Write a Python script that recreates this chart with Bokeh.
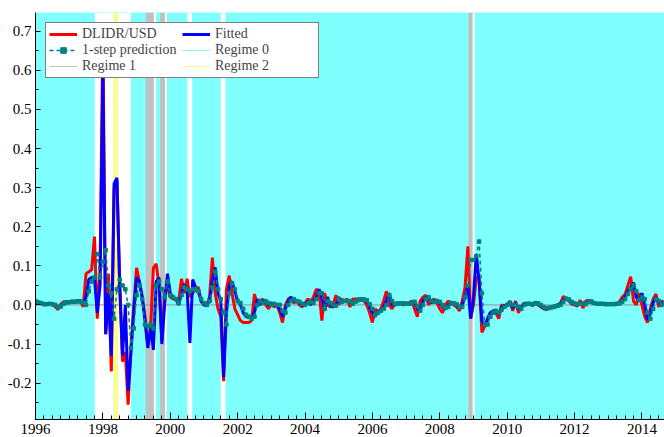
from bokeh.plotting import figure
from bokeh.models import (Range1d, BoxAnnotation, Span, Legend, LegendItem,
                          SingleIntervalTicker, PrintfTickFormatter, ColumnDataSource)
from bokeh.embed import file_html
from bokeh.resources import INLINE

# ---------------- data (monthly, starting 1996M1) ----------------
start_year = 1996

dlidr_usd = [
    0.005, 0.008, 0.004, 0.0, 0.003, 0.002, 0.0, -0.004, -0.012, 0.002, 0.008, 0.009,      # 1996
    0.008, 0.01, 0.009, 0.011, 0.01, -0.005, 0.08, 0.085, 0.09, 0.175, -0.035, 0.09,        # 1997
    0.71, -0.075, 0.08, -0.17, 0.30, 0.32, 0.05, -0.145, -0.12, -0.255, -0.11, 0.0,         # 1998
    0.095, 0.06, 0.02, -0.03, -0.10, -0.06, 0.095, 0.105, 0.05, -0.09, 0.03, 0.05,          # 1999
    0.02, 0.015, 0.015, 0.01, 0.067, 0.03, 0.067, 0.02, 0.03, 0.04, 0.045, 0.01,            # 2000
    0.0, 0.0, 0.02, 0.121, 0.03, -0.01, -0.03, -0.195, 0.04, 0.075, 0.03, -0.01,            # 2001
    -0.025, -0.04, -0.045, -0.045, -0.045, -0.04, 0.028, 0.0, 0.01, 0.015, 0.0, -0.01,      # 2002
    0.005, -0.005, 0.0, -0.02, -0.045, 0.0, 0.015, 0.02, 0.005, 0.01, 0.0, -0.005,          # 2003
    0.005, 0.015, 0.01, 0.02, 0.04, 0.035, -0.04, 0.03, 0.0, -0.005, 0.0, 0.025,            # 2004
    0.0, 0.015, 0.01, 0.015, -0.005, 0.015, 0.015, 0.015, 0.015, 0.01, 0.0, -0.02,          # 2005
    -0.045, -0.01, -0.02, -0.01, 0.01, 0.035, 0.0, -0.01, 0.005, 0.005, 0.005, 0.0,         # 2006
    0.005, 0.005, 0.01, -0.01, -0.03, 0.01, 0.02, 0.025, 0.0, 0.01, 0.015, 0.005,           # 2007
    -0.01, -0.02, 0.0, 0.01, 0.005, 0.0, -0.005, -0.015, 0.01, 0.045, 0.15, -0.035,         # 2008
    0.0, 0.07, 0.07, -0.07, -0.055, -0.04, -0.02, -0.02, -0.02, -0.035, 0.0, -0.002,        # 2009
    0.0, 0.01, -0.015, 0.01, -0.02, -0.005, 0.005, 0.0, 0.005, -0.003, 0.008, 0.0,          # 2010
    -0.005, -0.01, -0.012, -0.005, -0.005, -0.003, 0.0, 0.005, 0.022, 0.015, 0.01, 0.002,   # 2011
    0.0, -0.003, 0.012, -0.008, 0.01, 0.012, 0.005, 0.004, 0.003, 0.004, 0.002, 0.003,      # 2012
    0.002, 0.003, 0.004, 0.003, 0.008, 0.02, 0.027, 0.05, 0.072, 0.01, 0.0, 0.03,           # 2013
    0.0, -0.03, -0.045, -0.01, 0.015, 0.028, -0.005, 0.01, 0.005,                           # 2014
]

fitted = [
    0.006, 0.006, 0.005, 0.003, 0.003, 0.003, 0.002, 0.0, -0.006, -0.002, 0.004, 0.007,
    0.008, 0.009, 0.009, 0.01, 0.01, 0.004, 0.02, 0.065, 0.07, 0.07, -0.02, 0.05,
    0.59, -0.075, 0.03, -0.13, 0.31, 0.325, 0.05, -0.13, 0.0, -0.22, -0.12, -0.02,
    0.07, 0.06, 0.02, -0.04, -0.11, -0.06, -0.115, 0.06, 0.07, -0.10, 0.0, 0.08,
    0.03, 0.02, 0.015, 0.0, 0.03, 0.053, 0.04, -0.097, 0.065, 0.045, 0.035, 0.01,
    0.0, 0.0, 0.01, 0.06, 0.096, 0.03, 0.01, -0.185, -0.02, 0.05, 0.06, 0.035,
    0.01, 0.0, -0.02, -0.03, -0.03, -0.035, -0.02, 0.015, 0.0, 0.01, 0.01, 0.0,
    0.005, 0.0, 0.0, -0.01, -0.03, -0.01, 0.01, 0.02, 0.01, 0.01, 0.005, 0.0,
    0.0, 0.01, 0.0, 0.01, 0.02, 0.04, 0.02, -0.015, 0.02, 0.0, -0.005, 0.0,
    0.02, 0.005, 0.01, 0.01, 0.01, 0.0, 0.01, 0.015, 0.015, 0.015, 0.01, -0.005,
    -0.02, -0.03, -0.015, -0.015, -0.005, 0.01, 0.03, 0.0, 0.0, 0.005, 0.005, 0.005,
    0.003, 0.003, 0.005, 0.01, -0.01, -0.015, 0.01, 0.02, 0.02, 0.005, 0.01, 0.012,
    0.005, -0.005, -0.01, 0.0, 0.003, 0.005, 0.0, -0.008, 0.0, 0.02, 0.05, -0.035,
    0.02, 0.13, 0.06, -0.04, -0.055, -0.035, -0.02, -0.015, -0.015, -0.025, -0.005, -0.002,
    0.0, 0.008, -0.008, 0.005, -0.01, -0.008, 0.003, 0.002, 0.004, 0.0, 0.006, 0.002,
    -0.003, -0.008, -0.01, -0.006, -0.005, -0.002, 0.0, 0.003, 0.012, 0.018, 0.012, 0.005,
    0.002, 0.0, 0.005, 0.002, 0.004, 0.01, 0.008, 0.004, 0.003, 0.003, 0.003, 0.002,
    0.002, 0.002, 0.003, 0.003, 0.005, 0.012, 0.02, 0.035, 0.045, 0.057, 0.02, 0.01,
    0.03, 0.002, -0.038, -0.02, 0.005, 0.02, 0.005, 0.003, 0.008,
]

one_step_prediction = [
    0.01, 0.006, 0.005, 0.002, 0.002, 0.003, 0.002, 0.0, -0.005, -0.004, 0.003, 0.006,
    0.007, 0.008, 0.008, 0.009, 0.009, 0.006, 0.0, 0.035, 0.06, 0.07, 0.13, 0.07,
    0.11, 0.14, 0.05, 0.03, -0.035, 0.04, 0.065, 0.05, 0.04, 0.0, -0.11, -0.06,
    0.025, 0.05, 0.015, -0.05, -0.055, -0.05, -0.06, 0.05, 0.06, 0.04, 0.02, 0.06,
    0.025, 0.02, 0.015, 0.005, 0.025, 0.045, 0.04, 0.035, 0.04, 0.04, 0.035, 0.015,
    0.005, 0.0, 0.01, 0.045, 0.085, 0.04, 0.015, -0.02, -0.05, 0.03, 0.055, 0.04,
    0.01, 0.005, -0.01, -0.025, -0.03, -0.035, -0.03, 0.0, 0.01, 0.005, 0.01, 0.005,
    0.0, 0.003, 0.0, 0.0, -0.015, -0.02, 0.0, 0.01, 0.015, 0.01, 0.008, 0.003,
    0.0, 0.005, 0.008, 0.005, 0.015, 0.03, 0.03, -0.01, 0.01, 0.005, 0.0, -0.002,
    0.015, 0.008, 0.01, 0.01, 0.01, 0.003, 0.008, 0.012, 0.014, 0.014, 0.012, 0.002,
    -0.01, -0.025, -0.02, -0.015, -0.01, 0.0, 0.025, 0.01, 0.002, 0.003, 0.004, 0.004,
    0.003, 0.003, 0.004, 0.008, -0.003, -0.015, 0.0, 0.015, 0.02, 0.01, 0.008, 0.01,
    0.008, 0.0, -0.008, -0.005, 0.005, 0.004, 0.002, -0.005, -0.005, 0.02, 0.05, 0.115,
    0.115, 0.125, 0.162, 0.03, -0.05, -0.05, -0.03, -0.02, -0.015, -0.02, -0.012, -0.005,
    0.0, 0.005, 0.0, 0.0, -0.005, -0.01, 0.0, 0.003, 0.003, 0.002, 0.004, 0.004,
    0.0, -0.005, -0.008, -0.008, -0.006, -0.004, -0.002, 0.0, 0.008, 0.016, 0.014, 0.008,
    0.004, 0.002, 0.003, 0.004, 0.002, 0.008, 0.009, 0.005, 0.003, 0.003, 0.003, 0.002,
    0.002, 0.002, 0.002, 0.003, 0.004, 0.008, 0.015, 0.028, 0.04, 0.05, 0.035, 0.012,
    0.02, 0.015, -0.02, -0.035, -0.01, 0.015, 0.01, 0.0, 0.005,
]

# regime periods (decimal years); everything else is regime 0
regime1_start = [1999.27, 1999.70, 2008.85]
regime1_end = [1999.51, 1999.84, 2008.97]
regime2_start = [1998.32]
regime2_end = [1998.44]
unshaded_start = [1997.76, 1998.44, 1999.51, 1999.84, 2000.51, 2001.50, 2008.97]
unshaded_end = [1998.32, 1998.83, 1999.58, 1999.90, 2000.65, 2001.64, 2009.04]

n = len(dlidr_usd)
dates = [start_year + k / 12 for k in range(n)]
src = ColumnDataSource(dict(t=dates, y=dlidr_usd, fit=fitted, pred=one_step_prediction))

CYAN = "#80ffff"
GREY = "#c0c0c0"
YELLOW = "#ffff80"
FONT = "Liberation Serif"
NAN = float("nan")

p = figure(width=664, height=437, output_backend="svg", toolbar_location=None,
           x_range=Range1d(1996.0, 2014.67), y_range=Range1d(-0.293, 0.748),
           min_border_left=35, min_border_right=0, min_border_top=12, min_border_bottom=18)
p.background_fill_color = CYAN
p.border_fill_color = "white"
p.outline_line_color = None
p.xgrid.visible = False
p.ygrid.visible = False

for s, e in zip(unshaded_start, unshaded_end):
    p.add_layout(BoxAnnotation(left=s, right=e, fill_color="white", fill_alpha=1,
                               line_color=None, level="underlay"))
for s, e in zip(regime1_start, regime1_end):
    p.add_layout(BoxAnnotation(left=s, right=e, fill_color=GREY, fill_alpha=1,
                               line_color=None, level="underlay"))
for s, e in zip(regime2_start, regime2_end):
    p.add_layout(BoxAnnotation(left=s, right=e, fill_color=YELLOW, fill_alpha=1,
                               line_color=None, level="underlay"))
p.add_layout(Span(location=0, dimension="width", line_color="#909090", line_width=1,
                  level="underlay"))

r_act = p.line("t", "y", source=src, line_color="#ff0000", line_width=3)
r_fit = p.line("t", "fit", source=src, line_color="#0000ff", line_width=3)
r_pl = p.line("t", "pred", source=src, line_color="#008080", line_width=1.5, line_dash="4 3")
r_pp = p.scatter("t", "pred", source=src, marker="square", size=3.5,
                 fill_color="#008080", line_color="#008080")

r0 = p.line(x=[NAN], y=[NAN], line_color=CYAN, line_width=1)
r1 = p.line(x=[NAN], y=[NAN], line_color=GREY, line_width=1)
r2 = p.line(x=[NAN], y=[NAN], line_color=YELLOW, line_width=1)

legend = Legend(items=[
    LegendItem(label="DLIDR/USD", renderers=[r_act]),
    LegendItem(label="Fitted", renderers=[r_fit]),
    LegendItem(label="1-step prediction", renderers=[r_pl, r_pp]),
    LegendItem(label="Regime 0", renderers=[r0]),
    LegendItem(label="Regime 1", renderers=[r1]),
    LegendItem(label="Regime 2", renderers=[r2]),
], orientation="horizontal", ncols=2, location="top_left", margin=10,
    padding=3, spacing=-2, glyph_width=28, glyph_height=14, label_height=14,
    label_width=100, label_standoff=5, label_text_font=FONT,
    label_text_font_size="14px",
    border_line_color="black", border_line_width=1,
    background_fill_color="white", background_fill_alpha=1)
legend.level = "underlay"
p.add_layout(legend)

# axes
xa = p.xaxis[0]
xa.ticker = SingleIntervalTicker(interval=2, num_minor_ticks=8)
xa.formatter = PrintfTickFormatter(format="%d")
ya = p.yaxis[0]
ya.ticker = SingleIntervalTicker(interval=0.1, num_minor_ticks=2)
ya.formatter = PrintfTickFormatter(format="%.1f")
for ax in (xa, ya):
    ax.axis_line_color = "black"
    ax.axis_line_width = 1
    ax.major_tick_in = 7
    ax.major_tick_out = 0
    ax.minor_tick_in = 4
    ax.minor_tick_out = 0
    ax.major_tick_line_color = "black"
    ax.minor_tick_line_color = "black"
    ax.major_label_text_font = FONT
    ax.major_label_text_font_size = "15px"
    ax.major_label_text_color = "black"
    ax.major_label_standoff = 4
ya.major_tick_in = 5
ya.minor_tick_in = 3

open("out.html", "w").write(file_html(p, INLINE))
